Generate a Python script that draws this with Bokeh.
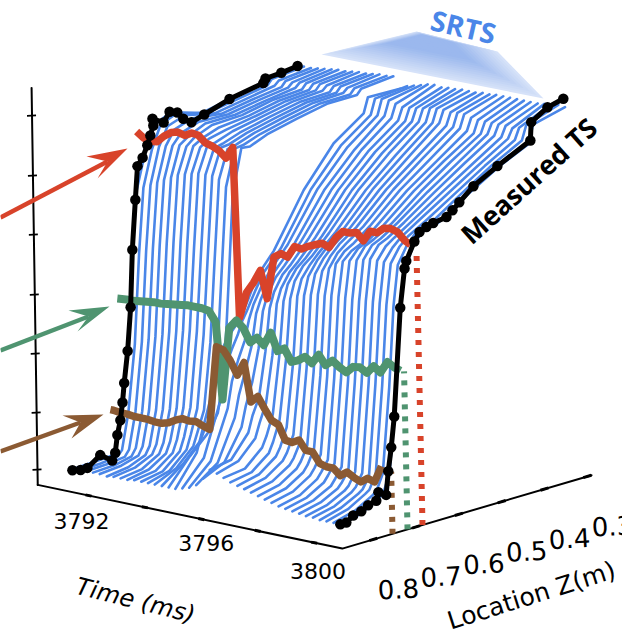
from bokeh.plotting import figure
from bokeh.core.properties import value
from bokeh.embed import file_html
from bokeh.resources import INLINE
import math

# ---------------- data ----------------
times = [3791.09, 3791.33, 3791.58, 3791.82, 3792.06, 3792.31, 3792.55, 3792.80, 3793.04, 3793.28,
         3793.53, 3793.77, 3794.01, 3794.26, 3794.50, 3794.74, 3794.99, 3795.23, 3795.48, 3795.72,
         3795.96, 3796.21, 3796.45, 3796.69, 3796.94, 3797.18, 3797.42, 3797.67, 3797.91, 3798.15,
         3798.40, 3798.64, 3798.89, 3799.13, 3799.37, 3799.62, 3799.86, 3800.10, 3800.35, 3800.59]
z_grid = [0.85, 0.80, 0.76, 0.75, 0.735, 0.72, 0.71, 0.70, 0.68, 0.66, 0.62, 0.55, 0.48, 0.41, 0.40, 0.325]

prof_00 = [18, 19, 20, 24, 58, 122, 215, 278, 314, 338, 346, 336, 342, 348, 352, 355]
prof_01 = [18, 19, 21, 26, 62, 128, 218, 282, 318, 340, 347, 338, 343, 348, 353, 356]
prof_02 = [19, 20, 22, 28, 64, 132, 222, 286, 322, 340, 346, 339, 344, 349, 353, 356]
prof_03 = [19, 20, 24, 31, 66, 136, 226, 290, 324, 338, 344, 340, 345, 349, 354, 357]
prof_04 = [19, 21, 26, 34, 68, 140, 230, 294, 326, 336, 342, 341, 346, 350, 354, 358]
prof_05 = [18, 21, 28, 36, 70, 144, 234, 298, 328, 334, 342, 342, 347, 351, 355, 359]
prof_06 = [19, 22, 30, 39, 72, 148, 236, 302, 328, 335, 342, 343, 349, 351, 356, 360]
prof_07 = [19, 22, 32, 42, 74, 150, 238, 304, 330, 335, 341, 344, 350, 352, 357, 360]
prof_08 = [19, 23, 34, 45, 76, 152, 238, 306, 330, 336, 340, 345, 351, 353, 358, 361]
prof_09 = [20, 23, 36, 48, 78, 154, 236, 308, 332, 334, 340, 346, 352, 354, 358, 362]
prof_10 = [20, 24, 39, 52, 80, 154, 234, 308, 332, 334, 340, 347, 353, 354, 359, 362]
prof_11 = [20, 26, 42, 56, 80, 152, 232, 308, 334, 335, 341, 348, 354, 355, 360, 363]
prof_12 = [20, 30, 47, 60, 80, 146, 228, 306, 334, 336, 342, 349, 355, 356, 360, 364]
prof_13 = [20, 36, 54, 64, 78, 136, 218, 300, 336, 337, 343, 350, 356, 356, 361, 364]
prof_14 = [20, 45, 62, 68, 80, 118, 205, 295, 338, 337, 344, 351, 357, 357, 362, 365]
prof_15 = [20, 50, 112, 138, 150, 160, 165, 170, 188, 208, 229, 281, 319, 340, 355, 354]
prof_16 = [22, 46, 100, 130, 146, 160, 172, 180, 198, 214, 233, 283, 318, 340, 355, 358]
prof_17 = [24, 44, 92, 118, 138, 155, 175, 188, 205, 218, 238, 285, 318, 341, 356, 360]
prof_18 = [28, 44, 84, 106, 128, 152, 182, 194, 212, 222, 241, 286, 317, 342, 356, 362]
prof_19 = [36, 46, 76, 96, 118, 150, 186, 200, 216, 225, 245, 287, 318, 341, 354, 364]
prof_20 = [46, 50, 72, 88, 104, 148, 190, 205, 220, 228, 248, 288, 318, 340, 352, 365]
prof_21 = [44, 50, 68, 82, 100, 146, 196, 210, 224, 232, 251, 290, 319, 341, 353, 364]
prof_22 = [41, 44, 60, 70, 90, 146, 200, 216, 229, 236, 254, 291, 319, 342, 354, 365]
prof_23 = [38, 42, 56, 66, 86, 144, 204, 220, 233, 240, 258, 293, 320, 343, 355, 365]
prof_24 = [36, 41, 54, 62, 80, 142, 208, 224, 236, 245, 261, 294, 320, 344, 357, 366]
prof_25 = [34, 39, 51, 58, 74, 140, 210, 228, 241, 250, 264, 296, 321, 345, 358, 366]
prof_26 = [32, 37, 48, 54, 68, 140, 212, 232, 245, 254, 267, 297, 322, 346, 358, 366]
prof_27 = [30, 35, 46, 52, 66, 138, 214, 236, 249, 258, 270, 299, 322, 345, 357, 367]
prof_28 = [28, 33, 44, 50, 64, 136, 214, 240, 253, 260, 272, 300, 323, 345, 358, 367]
prof_29 = [26, 31, 42, 48, 60, 136, 216, 246, 256, 261, 274, 301, 323, 345, 358, 368]
prof_30 = [24, 29, 40, 46, 56, 136, 216, 250, 258, 262, 276, 302, 323, 344, 356, 368]
prof_31 = [23, 28, 38, 44, 54, 136, 216, 252, 262, 266, 278, 303, 324, 343, 355, 368]
prof_32 = [22, 27, 36, 42, 52, 136, 216, 254, 266, 270, 280, 304, 325, 344, 355, 368]
prof_33 = [21, 26, 35, 40, 50, 136, 216, 256, 268, 272, 283, 305, 325, 345, 355, 368]
prof_34 = [20, 25, 34, 38, 50, 136, 218, 258, 270, 274, 285, 306, 326, 345, 355, 368]
prof_35 = [20, 25, 34, 38, 50, 138, 218, 258, 270, 276, 287, 307, 326, 345, 355, 368]
prof_36 = [19, 25, 34, 37, 48, 138, 218, 258, 270, 278, 289, 308, 327, 345, 354, 369]
prof_37 = [19, 25, 35, 38, 52, 138, 218, 258, 272, 280, 290, 309, 328, 345, 356, 370]
prof_38 = [19, 25, 35, 38, 54, 138, 218, 258, 274, 284, 291, 311, 330, 346, 360, 371]
prof_39 = [18, 24, 34, 37, 56, 135, 216, 254, 276, 287, 292, 312, 330, 344, 362, 370]

red_z = 0.70
red_t = times + [3800.80]
red_T = [337, 332, 330, 331, 338, 343, 345, 343, 347, 346, 340, 338, 335, 329, 341, 172, 199, 210, 224, 197,
         240, 245, 243, 255, 254, 258, 261, 264, 261, 272, 280, 280, 282, 275, 286, 286, 292, 293, 291, 284, 281]
green_z = 0.724
green_t = [3790.77] + times + [3800.81]
green_T = [171, 172, 172, 173, 174, 175, 175, 176, 177, 178, 179, 179, 179, 178, 168, 92, 165, 174, 168, 155, 161,
           155, 169, 152, 156, 144, 147, 152, 147, 157, 148, 154, 149, 145, 152, 153, 149, 157, 152, 164, 160, 158]
brown_z = 0.754
brown_t = [3790.98] + times
brown_T = [65, 65, 64, 64, 63, 63, 63, 62, 62, 64, 68, 71, 70, 71, 68, 66, 150, 148, 139, 126, 140,
           102, 109, 98, 88, 85, 71, 70, 74, 65, 65, 55, 53, 53, 47, 52, 48, 45, 50, 48, 65]

ts_left_time = 3791.09
ts_left_z = [0.850, 0.831, 0.815, 0.785, 0.757, 0.750, 0.745, 0.738, 0.733, 0.729, 0.721, 0.714, 0.710, 0.703, 0.698,
             0.686, 0.675, 0.668, 0.661, 0.663, 0.637, 0.623, 0.605, 0.591, 0.572, 0.542, 0.483, 0.404, 0.399, 0.362, 0.324]
ts_left_T = [17, 15, 15, 24, 15, 22, 39, 53, 70, 89, 120, 163, 220, 269, 302,
             309, 320, 329, 338, 345, 338, 347, 344, 336, 330, 334, 342, 348, 352, 353, 355]
ts_right_time = 3800.59
ts_right_z = [0.850, 0.836, 0.820, 0.801, 0.785, 0.766, 0.761, 0.743, 0.738, 0.731, 0.724, 0.710, 0.700, 0.696,
              0.677, 0.665, 0.649, 0.633, 0.602, 0.588, 0.572, 0.539, 0.483, 0.406, 0.404, 0.366, 0.329]
ts_right_T = [19, 19, 24, 26, 30, 32, 40, 35, 58, 81, 111, 218, 256, 263,
              280, 288, 291, 293, 295, 300, 306, 318, 331, 347, 365, 375, 379]

drop_z = [0.755, 0.72, 0.685]
drop_T = [62, 158, 272]

time_ticks = [3792, 3794, 3796, 3798, 3800]
time_labels = ["3792", "3796", "3800"]
z_ticks = [0.8, 0.7, 0.6, 0.5, 0.4, 0.3]
z_labels = ["0.8", "0.7", "0.6", "0.5", "0.4", "0.3"]
temp_ticks = [15, 72, 131, 190, 250, 309, 369]

profiles = [prof_00, prof_01, prof_02, prof_03, prof_04, prof_05, prof_06, prof_07, prof_08, prof_09,
            prof_10, prof_11, prof_12, prof_13, prof_14, prof_15, prof_16, prof_17, prof_18, prof_19,
            prof_20, prof_21, prof_22, prof_23, prof_24, prof_25, prof_26, prof_27, prof_28, prof_29,
            prof_30, prof_31, prof_32, prof_33, prof_34, prof_35, prof_36, prof_37, prof_38, prof_39]

# ---------------- oblique 3-D projection onto the plot plane ----------------
Z_CORNER = 0.8724
T_ORIGIN = 3790.2
T_CORNER = 3801.0


def px(t, z, T=0.0, lean=0.0):
    return 88 + 28.2 * (t - 3792) + 428 * (Z_CORNER - z) - lean * T


def py(t, z, T=0.0):
    return 495 + 5.9 * (t - 3792) - 126 * (Z_CORNER - z) - T


def series(ts, zs, Ts):
    return [px(a, b) for a, b in zip(ts, zs)], [py(a, b, c) for a, b, c in zip(ts, zs, Ts)]


BLUE, RED, GREEN, BROWN = "#4a86e8", "#d8432a", "#4f9470", "#8b5a33"
SANS = value("DejaVu Sans")
HEAVY = value("Open Sans")

p = figure(width=622, height=634, x_range=(0, 622), y_range=(634, 0),
           output_backend="svg", toolbar_location=None, min_border=0)
p.xaxis.visible = False
p.yaxis.visible = False
p.grid.visible = False
p.outline_line_color = None
p.background_fill_color = "white"

# axes
ax_kw = dict(line_color="black", line_width=2, line_cap="round")
p.line([px(T_ORIGIN, Z_CORNER), px(T_CORNER, Z_CORNER), px(T_CORNER, 0.29)],
       [py(T_ORIGIN, Z_CORNER), py(T_CORNER, Z_CORNER), py(T_CORNER, 0.29)], **ax_kw)
p.line([px(T_ORIGIN, Z_CORNER), px(T_ORIGIN, Z_CORNER, 397, 0.0155)],
       [py(T_ORIGIN, Z_CORNER), py(T_ORIGIN, Z_CORNER, 397)], **ax_kw)
for v in temp_ticks:
    x0, y0 = px(T_ORIGIN, Z_CORNER, v, 0.0155), py(T_ORIGIN, Z_CORNER, v)
    p.line([x0 - 5, x0 + 4], [y0, y0 - 0.5], line_color="black", line_width=1.6)
for v in time_ticks:
    x0, y0 = px(v, Z_CORNER), py(v, Z_CORNER)
    p.line([x0 - 3, x0 + 3], [y0 - 0.6, y0 + 0.6], line_color="black", line_width=3)
for v in z_ticks:
    x0, y0 = px(T_CORNER, v), py(T_CORNER, v)
    p.line([x0 - 4, x0 + 4], [y0 + 1.2, y0 - 1.2], line_color="black", line_width=3)

# SRTS wedge with a soft gradient, built from polygons shrinking towards its darker top
wx, wy = [321, 416, 497, 543], [54, 31, 51, 98]
cx, cy = 425, 36
c0, c1 = (214, 226, 249), (155, 184, 238)
steps = 18
for k in range(steps):
    f = 1 - k / steps
    g = min(1.0, k / (steps * 0.6))
    col = "#%02x%02x%02x" % tuple(int(a + (b - a) * g) for a, b in zip(c0, c1))
    p.patch([cx + (a - cx) * f for a in wx], [cy + (b - cy) * f for b in wy], fill_color=col, line_color=None)

# measured and reconstructed traces
for tv, prof in zip(times, profiles):
    xs, ys = series([tv] * len(z_grid), z_grid, prof)
    p.line(xs, ys, line_color=BLUE, line_width=2.6, line_join="round", line_cap="round")

# dotted drop lines
for zv, Tv, col in zip(drop_z, drop_T, [BROWN, GREEN, RED]):
    p.line([px(T_CORNER, zv), px(T_CORNER, zv, Tv, 0.022)], [py(T_CORNER, zv), py(T_CORNER, zv, Tv)],
           line_color=col, line_width=6, line_dash=[5, 7])

for ts_, zv, Ts_, col, lw in ((red_t, red_z, red_T, RED, 7.5), (green_t, green_z, green_T, GREEN, 8),
                              (brown_t, brown_z, brown_T, BROWN, 7.5)):
    xs, ys = series(ts_, [zv] * len(ts_), Ts_)
    p.line(xs, ys, line_color=col, line_width=lw, line_join="round")

for tv, zs, Ts in ((ts_left_time, ts_left_z, ts_left_T), (ts_right_time, ts_right_z, ts_right_T)):
    xs, ys = series([tv] * len(zs), zs, Ts)
    p.line(xs, ys, line_color="black", line_width=5, line_join="round")
    p.scatter(xs, ys, size=10.5, marker="circle", fill_color="black", line_color=None)

# pointer arrows
for col, tail, notch, tip, b1, b2 in (
        (RED, (0, 217), (107, 161), (127, 148), (86, 156), (97, 178)),
        (GREEN, (0, 350), (88, 316), (109, 306), (68, 310), (77, 331)),
        (BROWN, (0, 451), (80, 422), (103, 414), (62, 415), (71, 438))):
    p.line([tail[0], notch[0]], [tail[1], notch[1]], line_color=col, line_width=4.5)
    p.patch([tip[0], b1[0], notch[0], b2[0]], [tip[1], b1[1], notch[1], b2[1]], fill_color=col, line_color=None)

# texts
txt = dict(text_align="center", text_baseline="middle", text_font=SANS, text_color="black")
lab_t = [time_ticks[0], time_ticks[2], time_ticks[4]]
p.text([px(v, Z_CORNER) + o for v, o in zip(lab_t, (-7, 5, 4))],
       [py(v, Z_CORNER) + o for v, o in zip(lab_t, (25, 24, 28))],
       text=time_labels, text_font_size="22px", **txt)
p.text([px(T_CORNER, v) + 25 for v in z_ticks], [py(T_CORNER, v) + 49 for v in z_ticks],
       text=z_labels, text_font_size="26px", angle=[math.radians(3)] * 6, **txt)
p.text([135], [600], text=["Time (ms)"], text_font_size="24px", text_font_style="italic",
       angle=[math.radians(-14)], **txt)
p.text([531], [595], text=["Location Z(m)"], text_font_size="25px",
       angle=[math.radians(17.5)], **txt)
p.text([528], [180], text=["Measured TS"], text_font=HEAVY, text_font_size="27px", text_font_style="bold",
       text_color="black", text_align="center", text_baseline="middle", angle=[math.radians(42)])
p.text([463], [26], text=["SRTS"], text_font=HEAVY, text_font_size="28px", text_font_style="bold",
       text_color="#4a86e8", text_align="center", text_baseline="middle", angle=[math.radians(-13)])

open("out.html", "w").write(file_html(p, INLINE))
